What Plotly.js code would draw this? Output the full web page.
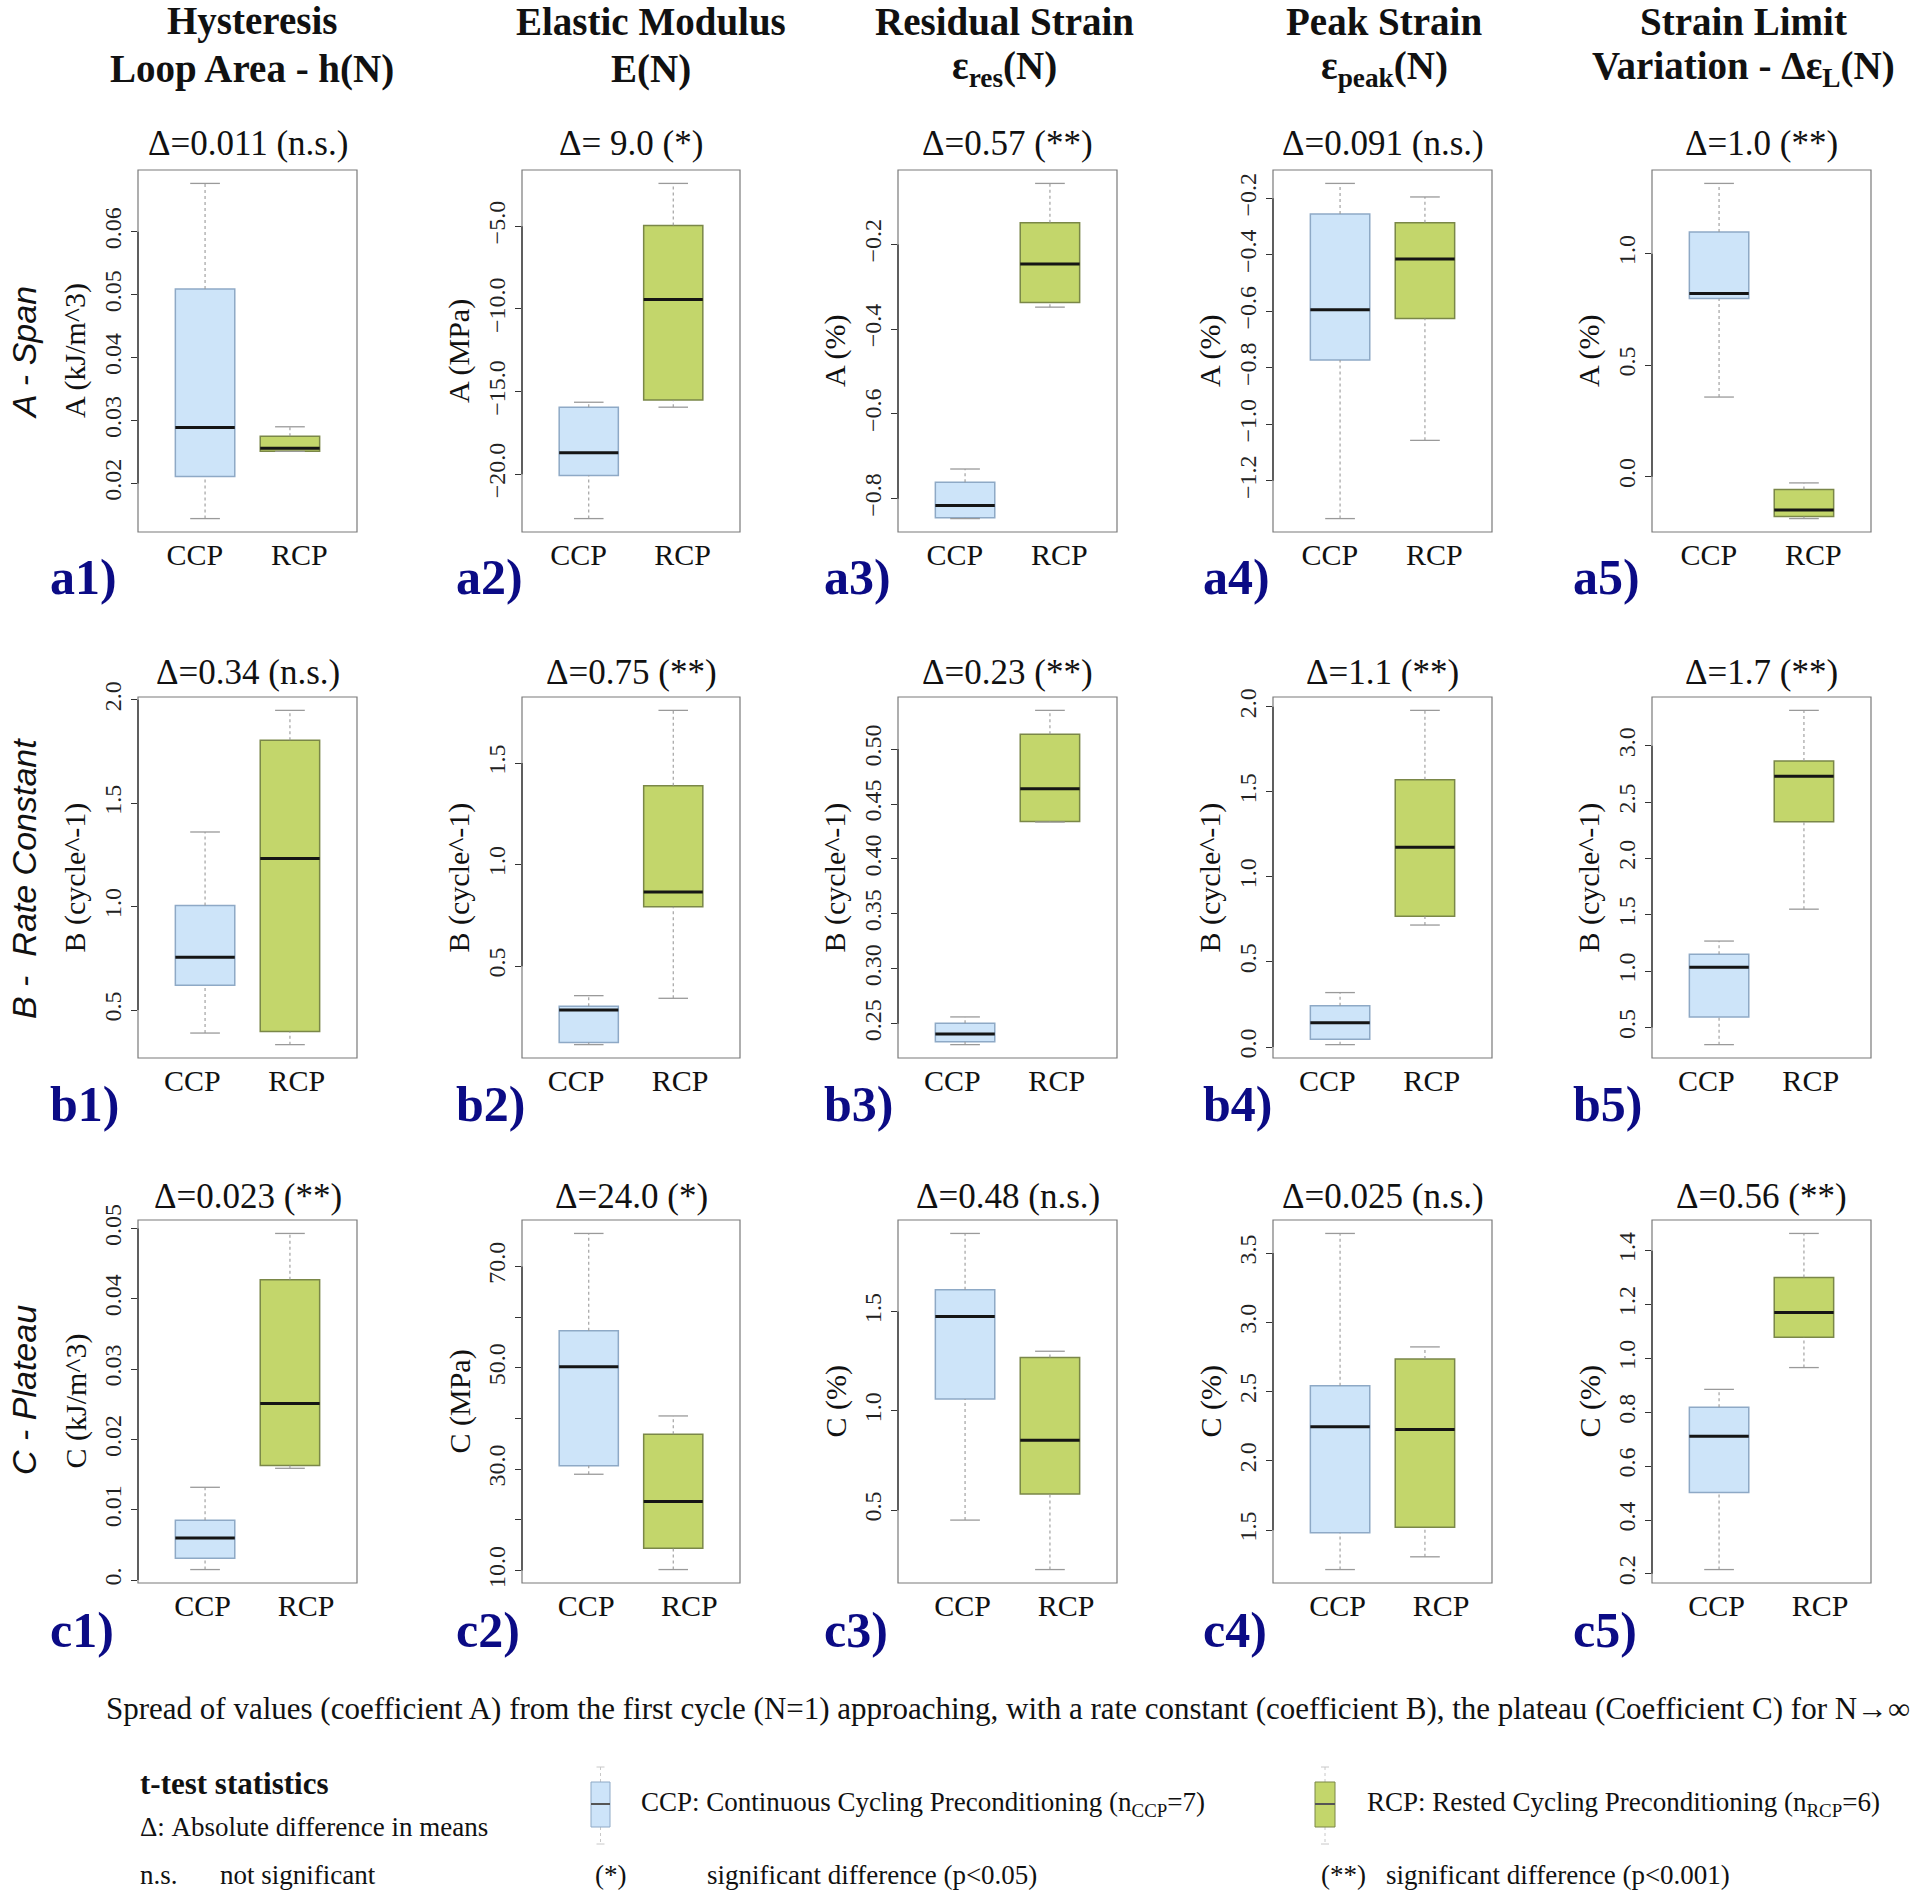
<!DOCTYPE html>
<html>
<head>
<meta charset="utf-8">
<script src="https://cdn.plot.ly/plotly-3.0.1.min.js"></script>
<style>html,body{margin:0;padding:0;background:#fff;}#chart{width:1920px;height:1895px;}</style>
</head>
<body>
<div id="chart"></div>
<script>
// ---------------- DATA ----------------
const panelIds = ["a1","a2","a3","a4","a5","b1","b2","b3","b4","b5","c1","c2","c3","c4","c5"];
const groups = ["CCP", "RCP"];

// CCP box statistics (lower whisker, Q1, median, Q3, upper whisker)
const ccpLower  = [0.0144, -22.69, -0.847, -1.334, 0.357,  0.389, 0.114, 0.2311, 0.014, 0.348,  0.0015, 29.0, 0.450, 1.216, 0.216];
const ccpQ1     = [0.0211, -20.08, -0.845, -0.772, 0.799,  0.620, 0.125, 0.2338, 0.045, 0.594,  0.0031, 30.7, 1.059, 1.481, 0.502];
const ccpMedian = [0.0289, -18.70, -0.816, -0.594, 0.821,  0.756, 0.285, 0.2407, 0.142, 1.035,  0.0060, 50.2, 1.475, 2.246, 0.711];
const ccpQ3     = [0.0509, -15.95, -0.761, -0.255, 1.097,  1.006, 0.303, 0.2506, 0.243, 1.149,  0.0085, 57.3, 1.609, 2.543, 0.819];
const ccpUpper  = [0.0677, -15.65, -0.730, -0.147, 1.315,  1.361, 0.355, 0.2563, 0.320, 1.267,  0.0132, 76.5, 1.893, 3.642, 0.885];

// RCP box statistics
const rcpLower  = [0.0251, -15.95, -0.348, -1.057, -0.188, 0.333, 0.342, 0.4336, 0.717, 1.550,  0.0159, 10.2, 0.201, 1.308, 0.966];
const rcpQ1     = [0.0251, -15.51, -0.337, -0.625, -0.179, 0.397, 0.792, 0.4342, 0.769, 2.326,  0.0163, 14.4, 0.581, 1.522, 1.079];
const rcpMedian = [0.0256,  -9.43, -0.246, -0.415, -0.150, 1.233, 0.865, 0.4640, 1.175, 2.730,  0.0251, 23.6, 0.852, 2.227, 1.170];
const rcpQ3     = [0.0275,  -4.96, -0.149, -0.286, -0.058, 1.804, 1.388, 0.5135, 1.571, 2.865,  0.0427, 36.9, 1.268, 2.736, 1.300];
const rcpUpper  = [0.0290,  -2.41, -0.056, -0.195, -0.028, 1.949, 1.759, 0.5352, 1.979, 3.314,  0.0493, 40.5, 1.300, 2.823, 1.464];

const deltaLabels = [
  "Δ=0.011 (n.s.)", "Δ= 9.0 (*)", "Δ=0.57 (**)", "Δ=0.091 (n.s.)", "Δ=1.0 (**)",
  "Δ=0.34 (n.s.)", "Δ=0.75 (**)", "Δ=0.23 (**)", "Δ=1.1 (**)", "Δ=1.7 (**)",
  "Δ=0.023 (**)", "Δ=24.0 (*)", "Δ=0.48 (n.s.)", "Δ=0.025 (n.s.)", "Δ=0.56 (**)"
];
const yTitles = [
  "A (kJ/m^3)", "A (MPa)", "A (%)", "A (%)", "A (%)",
  "B (cycle^-1)", "B (cycle^-1)", "B (cycle^-1)", "B (cycle^-1)", "B (cycle^-1)",
  "C (kJ/m^3)", "C (MPa)", "C (%)", "C (%)", "C (%)"
];
const yTickVals = [
  [0.02,0.03,0.04,0.05,0.06], [-20,-15,-10,-5], [-0.8,-0.6,-0.4,-0.2], [-1.2,-1.0,-0.8,-0.6,-0.4,-0.2], [0,0.5,1.0],
  [0.5,1.0,1.5,2.0], [0.5,1.0,1.5], [0.25,0.30,0.35,0.40,0.45,0.50], [0,0.5,1.0,1.5,2.0], [0.5,1.0,1.5,2.0,2.5,3.0],
  [0,0.01,0.02,0.03,0.04,0.05], [10,30,50,70], [0.5,1.0,1.5], [1.5,2.0,2.5,3.0,3.5], [0.2,0.4,0.6,0.8,1.0,1.2,1.4]
];
const yTickText = [
  ["0.02","0.03","0.04","0.05","0.06"], ["−20.0","−15.0","−10.0","−5.0"], ["−0.8","−0.6","−0.4","−0.2"],
  ["−1.2","−1.0","−0.8","−0.6","−0.4","−0.2"], ["0.0","0.5","1.0"],
  ["0.5","1.0","1.5","2.0"], ["0.5","1.0","1.5"], ["0.25","0.30","0.35","0.40","0.45","0.50"],
  ["0.0","0.5","1.0","1.5","2.0"], ["0.5","1.0","1.5","2.0","2.5","3.0"],
  ["0.","0.01","0.02","0.03","0.04","0.05"], ["10.0","30.0","50.0","70.0"], ["0.5","1.0","1.5"],
  ["1.5","2.0","2.5","3.0","3.5"], ["0.2","0.4","0.6","0.8","1.0","1.2","1.4"]
];
// unlabeled ticks (R drops labels that would overlap)
const yMinorTicks = [[],[],[],[],[], [],[],[],[],[], [],[20,40,60],[],[],[]];

const headerLine1 = ["Hysteresis", "Elastic Modulus", "Residual Strain", "Peak Strain", "Strain Limit"];
const headerLine2 = ["Loop Area - h(N)", "E(N)", "ε<sub>res</sub>(N)", "ε<sub>peak</sub>(N)", "Variation - Δε<sub>L</sub>(N)"];
const rowLabels = ["A - Span", "B -  Rate Constant", "C - Plateau"];

// ---------------- LAYOUT GEOMETRY (pixels) ----------------
const W = 1920, H = 1895;
const colX0 = [138, 522, 898, 1273, 1652];
const colX1 = [357, 740, 1117, 1492, 1871];
const rowY0 = [170, 697, 1220];
const rowY1 = [532, 1058, 1583];
const deltaY = [144, 672, 1196];
const labelX = [48, 454, 822, 1201, 1571];
const labelY = [577, 1104, 1630];
const rowLabelY = [353, 879, 1390];
const headerCX = [252, 651, 1004, 1384, 1743];
const xTickPos = [[0.88, 2.11], [0.85, 2.08], [0.97, 2.19]];
const boxPos = [1, 2];
const boxWidth = 0.7;

const px = v => v / W;
const py = v => 1 - v / H;

const serif = "Liberation Serif, Times New Roman, serif";
const fill = { CCP: "#cde4f9", RCP: "#c3d66b" };
const border = { CCP: "#8ea9c6", RCP: "#7a8748" };
const whisk = "#9a9a9a";

const traces = [];
const layout = {
  width: W, height: H,
  margin: { l: 0, r: 0, t: 0, b: 0 },
  paper_bgcolor: "#ffffff", plot_bgcolor: "#ffffff",
  showlegend: false,
  boxmode: "overlay",
  font: { family: serif, color: "#111" },
  annotations: [], shapes: []
};

panelIds.forEach((pid, i) => {
  const r = Math.floor(i / 5), c = i % 5;
  const n = i === 0 ? "" : String(i + 1);
  const xa = "x" + n, ya = "y" + n;
  const stats = {
    CCP: [ccpLower[i], ccpQ1[i], ccpMedian[i], ccpQ3[i], ccpUpper[i]],
    RCP: [rcpLower[i], rcpQ1[i], rcpMedian[i], rcpQ3[i], rcpUpper[i]]
  };
  groups.forEach((g, gi) => {
    const [lo, q1, md, q3, up] = stats[g];
    const p = boxPos[gi], cw = boxWidth / 4;
    // dotted whiskers
    traces.push({ type: "scatter", mode: "lines", xaxis: xa, yaxis: ya, hoverinfo: "skip", showlegend: false,
      x: [p, p, null, p, p], y: [lo, q1, null, q3, up], line: { color: whisk, width: 1.1, dash: "dot" } });
    // solid staples
    traces.push({ type: "scatter", mode: "lines", xaxis: xa, yaxis: ya, hoverinfo: "skip", showlegend: false,
      x: [p - cw, p + cw, null, p - cw, p + cw], y: [lo, lo, null, up, up], line: { color: whisk, width: 1.3 } });
    const common = { type: "box", x: [p], xaxis: xa, yaxis: ya, width: boxWidth, hoverinfo: "skip", showlegend: false };
    traces.push(Object.assign({}, common, {
      q1: [q1], median: [md], q3: [q3], lowerfence: [q1], upperfence: [q3],
      whiskerwidth: 0, fillcolor: fill[g], line: { color: border[g], width: 1.5 }
    }));
    traces.push(Object.assign({}, common, {
      q1: [md], median: [md], q3: [md], lowerfence: [md], upperfence: [md],
      whiskerwidth: 0, fillcolor: "rgba(0,0,0,0)", line: { color: "#151515", width: 3 }
    }));
  });

  const dmin = Math.min(ccpLower[i], rcpLower[i]);
  const dmax = Math.max(ccpUpper[i], rcpUpper[i]);
  const pad = (dmax - dmin) * 0.04;

  layout["xaxis" + n] = {
    domain: [px(colX0[c]), px(colX1[c])], anchor: ya,
    range: [0.21, 2.79], fixedrange: true,
    showgrid: false, zeroline: false, showline: false, ticks: "",
    tickmode: "array", tickvals: xTickPos[r], ticktext: groups,
    tickfont: { family: serif, size: 30, color: "#111" }, ticklabelstandoff: 2
  };
  const yax = {
    domain: [py(rowY1[r]), py(rowY0[r])], anchor: xa,
    range: [dmin - pad, dmax + pad], fixedrange: true,
    showgrid: false, zeroline: false, showline: false,
    ticks: "outside", ticklen: 6, tickwidth: 1, tickcolor: "#333",
    tickmode: "array", tickvals: yTickVals[i], ticktext: yTickText[i],
    tickangle: -90, tickfont: { family: serif, size: 24, color: "#222" }
  };
  if (yMinorTicks[i].length) {
    yax.minor = { tickmode: "array", tickvals: yMinorTicks[i], ticks: "outside", ticklen: 6, tickwidth: 1, tickcolor: "#333", showgrid: false };
  }
  layout["yaxis" + n] = yax;
  // frame
  layout.shapes.push({ type: "rect", xref: xa + " domain", yref: ya + " domain", x0: 0, x1: 1, y0: 0, y1: 1,
    line: { color: "#7a7a7a", width: 1.2 }, fillcolor: "rgba(0,0,0,0)", layer: "above" });
  // R-style axis line spanning first..last tick
  const allT = yTickVals[i].concat(yMinorTicks[i]);
  layout.shapes.push({ type: "line", xref: xa + " domain", yref: ya, x0: 0, x1: 0,
    y0: Math.min.apply(null, allT), y1: Math.max.apply(null, allT),
    line: { color: "#333", width: 1.3 }, layer: "above" });

  // delta title
  layout.annotations.push({ text: deltaLabels[i], xref: "paper", yref: "paper",
    x: px((colX0[c] + colX1[c]) / 2), y: py(deltaY[r]), xanchor: "center", yanchor: "middle",
    showarrow: false, font: { family: serif, size: 35, color: "#111" } });
  // y title
  layout.annotations.push({ text: yTitles[i], xref: "paper", yref: "paper",
    x: px(colX0[c] - 63), y: py((rowY0[r] + rowY1[r]) / 2), xanchor: "center", yanchor: "middle",
    textangle: -90, showarrow: false, font: { family: serif, size: 30, color: "#111" } });
  // panel label
  layout.annotations.push({ text: "<b>" + pid + ")</b>", xref: "paper", yref: "paper",
    x: px(labelX[c]), y: py(labelY[r]), xanchor: "left", yanchor: "middle",
    showarrow: false, font: { family: serif, size: 50, color: "#0b0b85" } });
});

// column headers
headerLine1.forEach((t, c) => {
  layout.annotations.push({ text: "<b>" + t + "</b>", xref: "paper", yref: "paper", x: px(headerCX[c]), y: py(21),
    xanchor: "center", yanchor: "middle", showarrow: false, font: { family: serif, size: 39, color: "#111" } });
  layout.annotations.push({ text: "<b>" + headerLine2[c] + "</b>", xref: "paper", yref: "paper", x: px(headerCX[c]), y: py(69),
    xanchor: "center", yanchor: "middle", showarrow: false, font: { family: serif, size: 39, color: "#111" } });
});

// row labels
rowLabels.forEach((t, r) => {
  layout.annotations.push({ text: t, xref: "paper", yref: "paper", x: px(24), y: py(rowLabelY[r]),
    xanchor: "center", yanchor: "middle", textangle: -90, showarrow: false,
    font: { family: "Liberation Sans, Arial, sans-serif", size: 34, style: "italic", color: "#111" } });
});

// caption and legend texts
function txt(text, x, y, size, anchor) {
  layout.annotations.push({ text: text, xref: "paper", yref: "paper", x: px(x), y: py(y),
    xanchor: anchor || "left", yanchor: "middle", showarrow: false, font: { family: serif, size: size, color: "#111" } });
}
txt("Spread of values (coefficient A) from the first cycle (N=1) approaching, with a rate constant (coefficient B), the plateau (Coefficient C) for N→∞", 104, 1708, 31);
txt("<b>t-test statistics</b>", 138, 1783, 31);
txt("Δ: Absolute difference in means", 138, 1827, 27);
txt("n.s.", 138, 1875, 27);
txt("not significant", 218, 1875, 27);
txt("(*)", 593, 1875, 27);
txt("significant difference (p<0.05)", 705, 1875, 27);
txt("(**)", 1319, 1875, 27);
txt("significant difference (p<0.001)", 1384, 1875, 27);
txt("CCP: Continuous Cycling Preconditioning (n<sub>CCP</sub>=7)", 639, 1804, 27);
txt("RCP: Rested Cycling Preconditioning (n<sub>RCP</sub>=6)", 1365, 1804, 27);

// legend icons
function icon(x0, x1, g) {
  const xc = (x0 + x1) / 2;
  layout.shapes.push({ type: "line", xref: "paper", yref: "paper", x0: px(xc), x1: px(xc), y0: py(1767), y1: py(1844),
    line: { color: "#c8c8c8", width: 1, dash: "dot" } });
  layout.shapes.push({ type: "line", xref: "paper", yref: "paper", x0: px(xc - 4), x1: px(xc + 4), y0: py(1767), y1: py(1767),
    line: { color: "#c8c8c8", width: 1 } });
  layout.shapes.push({ type: "line", xref: "paper", yref: "paper", x0: px(xc - 4), x1: px(xc + 4), y0: py(1844), y1: py(1844),
    line: { color: "#c8c8c8", width: 1 } });
  layout.shapes.push({ type: "rect", xref: "paper", yref: "paper", x0: px(x0), x1: px(x1), y0: py(1827), y1: py(1782),
    fillcolor: fill[g], line: { color: border[g], width: 1 } });
  layout.shapes.push({ type: "line", xref: "paper", yref: "paper", x0: px(x0), x1: px(x1), y0: py(1804), y1: py(1804),
    line: { color: "#555", width: 2 } });
}
icon(591, 610, "CCP");
icon(1315, 1335, "RCP");

Plotly.newPlot("chart", traces, layout, { displayModeBar: false, staticPlot: true });
</script>
</body>
</html>
